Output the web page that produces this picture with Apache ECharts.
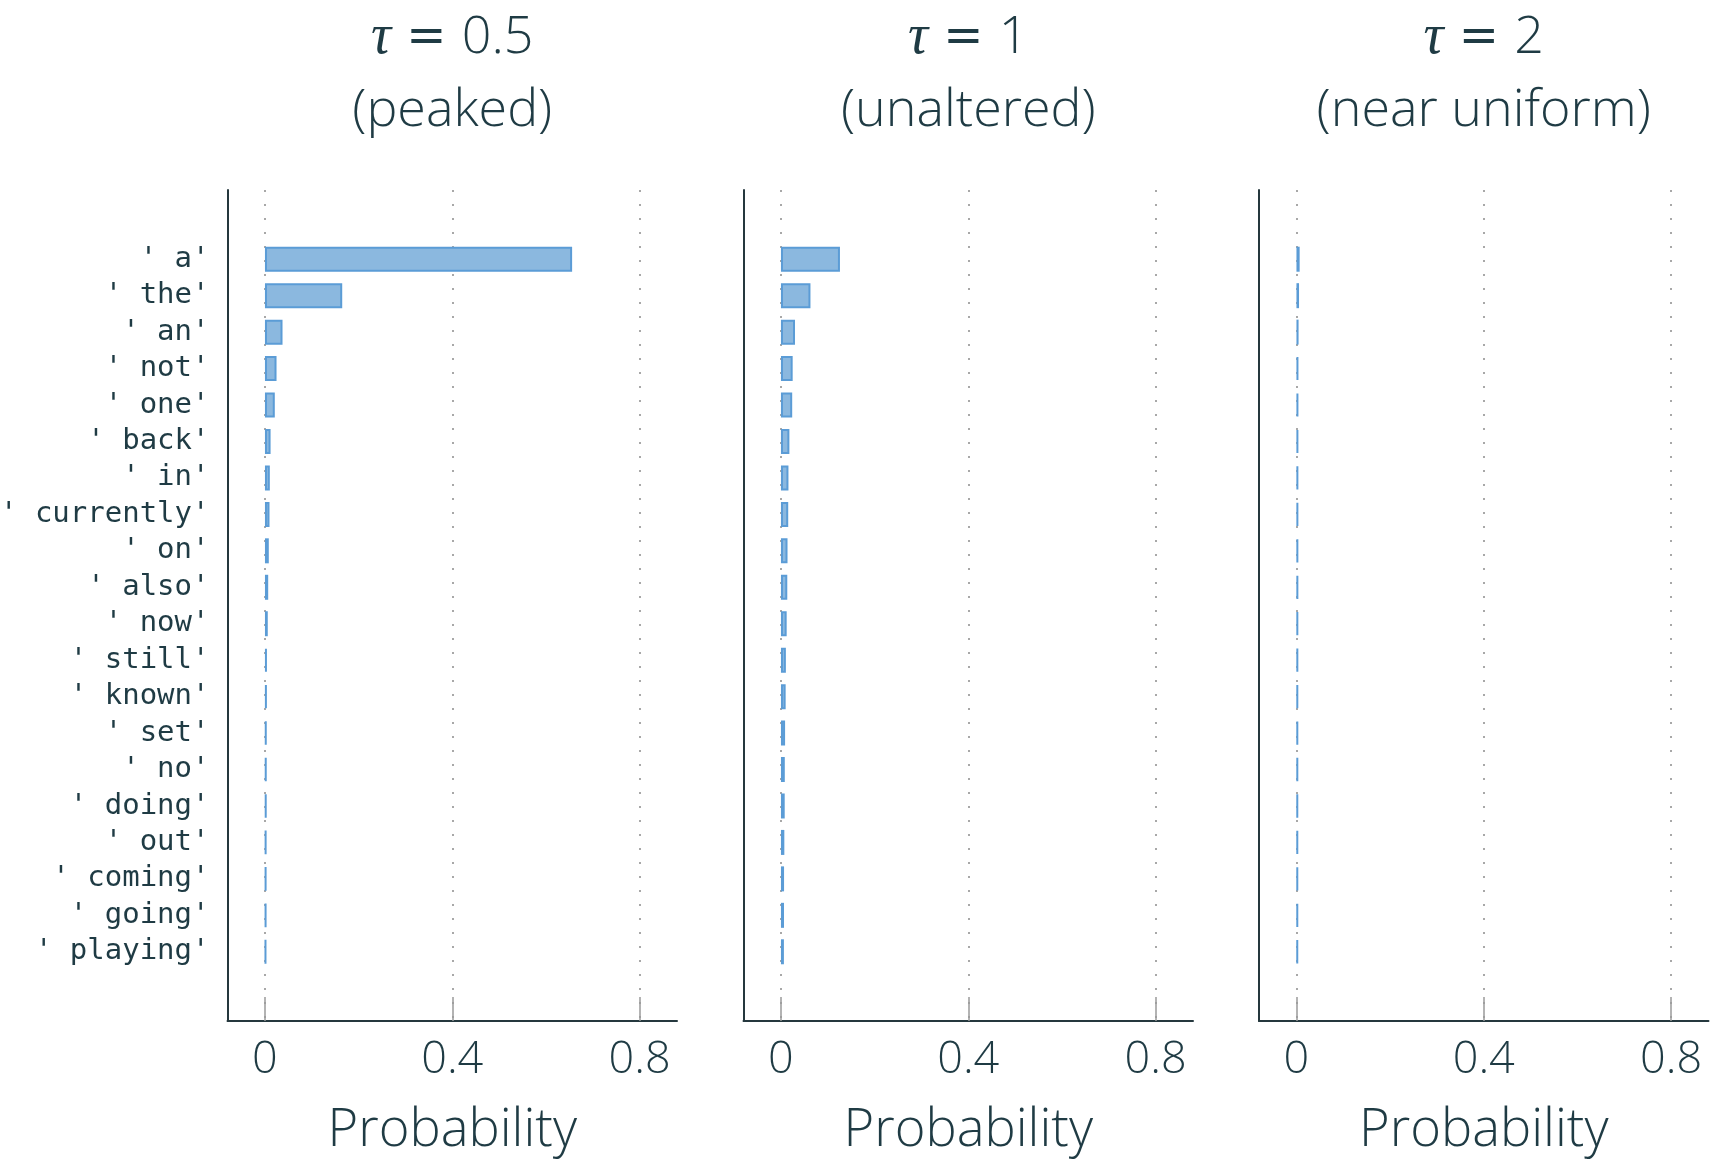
<!DOCTYPE html>
<html>
<head>
<meta charset="utf-8">
<script src="https://cdn.jsdelivr.net/npm/echarts@6/dist/echarts.min.js"></script>
<style>
html,body{margin:0;padding:0;background:#fff;}
#chart{width:1726px;height:1168px;}
</style>
</head>
<body>
<div id="chart"></div>
<script>
const categories = ["' a'", "' the'", "' an'", "' not'", "' one'", "' back'", "' in'", "' currently'", "' on'", "' also'", "' now'", "' still'", "' known'", "' set'", "' no'", "' doing'", "' out'", "' coming'", "' going'", "' playing'"];
const probTau05 = [0.656, 0.165, 0.0375, 0.0247, 0.021, 0.012, 0.0104, 0.0097, 0.0082, 0.0069, 0.006, 0.0042, 0.004, 0.0034, 0.0033, 0.0032, 0.0028, 0.0027, 0.0026, 0.0022];
const probTau1 = [0.126, 0.063, 0.030, 0.025, 0.024, 0.018, 0.016, 0.0155, 0.014, 0.0135, 0.0122, 0.0105, 0.010, 0.0088, 0.0082, 0.008, 0.0072, 0.0066, 0.0065, 0.0063];
const probTau2 = [0.0068, 0.0055, 0.0045, 0.0042, 0.0041, 0.004, 0.0039, 0.0039, 0.0038, 0.0038, 0.0037, 0.0037, 0.0036, 0.0036, 0.0036, 0.0035, 0.0035, 0.0035, 0.0035, 0.0034];
const tauValues = ['0.5', '1', '2'];
const subtitles = ['(peaked)', '(unaltered)', '(near uniform)'];
const xTickValues = [0, 0.4, 0.8];
const axisName = 'Probability';

const series = [probTau05, probTau1, probTau2];
const panelLeft = [227.5, 743.5, 1259];
const panelWidth = 449.5;
const W = 1726, H = 1168;
const xMin = -0.08, xMax = 0.88;
const textColor = '#1f3b44';
const axisColor = '#25383e';
const sans = "'Open Sans', 'Noto Sans', sans-serif";

const grids = [], xAxes = [], yAxes = [], seriesOpt = [], titles = [];
series.forEach((vals, i) => {
  const left = panelLeft[i];
  const right = W - left - panelWidth;
  grids.push({left: left, right: right, top: 190, bottom: H - 1021, containLabel: false, outerBoundsMode: 'none'});
  grids.push({left: left, right: right, top: 241, bottom: 198, containLabel: false, outerBoundsMode: 'none'});
  const fi = i * 2, bi = i * 2 + 1;
  xAxes.push({
    type: 'value', gridIndex: fi, min: xMin, max: xMax,
    axisLine: {show: true, onZero: false, lineStyle: {color: axisColor, width: 2}},
    axisTick: {show: true, inside: true, length: 24, customValues: xTickValues, lineStyle: {color: '#9a9a9a', width: 1.5}},
    axisLabel: {show: true, customValues: xTickValues, margin: 17, color: textColor, fontSize: 45, fontFamily: sans, fontWeight: 300,
      formatter: v => String(v)},
    splitLine: {show: true, lineStyle: {color: '#a8a8a8', width: 2, type: [2, 12]}},
    name: axisName, nameLocation: 'middle', nameGap: 84,
    nameTextStyle: {color: textColor, fontSize: 52.5, fontFamily: sans, fontWeight: 300}
  });
  yAxes.push({
    type: 'value', gridIndex: fi, min: 0, max: 1,
    axisLine: {show: true, onZero: false, lineStyle: {color: axisColor, width: 2}},
    axisTick: {show: false}, axisLabel: {show: false}, splitLine: {show: false}
  });
  xAxes.push({type: 'value', gridIndex: bi, min: xMin, max: xMax, show: false, splitLine: {show: false}});
  yAxes.push({
    type: 'category', gridIndex: bi, data: categories, inverse: true,
    axisLine: {show: false}, axisTick: {show: false}, splitLine: {show: false},
    axisLabel: {show: i === 0, interval: 0, hideOverlap: false, margin: 18, color: textColor, fontSize: 29,
      lineHeight: 30, padding: [11, 0, 0, 0],
      fontFamily: "'DejaVu Sans Mono', 'Liberation Mono', monospace"}
  });
  seriesOpt.push({
    type: 'bar', xAxisIndex: bi, yAxisIndex: bi, data: vals, barWidth: 25,
    itemStyle: {color: '#8bb8df', borderColor: '#5b9cd6', borderWidth: 2},
    emphasis: {disabled: true}, animation: false
  });
  titles.push({
    text: '{tau|τ}{op| = }{num|' + tauValues[i] + '}\n{sub|' + subtitles[i] + '}',
    left: left + panelWidth / 2, top: 2, textAlign: 'center', padding: 0,
    textStyle: {
      fontWeight: 'normal',
      rich: {
        tau: {fontFamily: "'Liberation Serif', serif", fontStyle: 'italic', fontWeight: 'normal', fontSize: 56, lineHeight: 73, color: textColor},
        op: {fontFamily: "'DejaVu Sans', sans-serif", fontWeight: 'normal', fontSize: 48, lineHeight: 73, color: textColor},
        num: {fontFamily: sans, fontWeight: 300, fontSize: 52, lineHeight: 73, color: textColor},
        sub: {fontFamily: sans, fontWeight: 300, fontSize: 52, lineHeight: 73, color: textColor}
      }
    }
  });
});

const chart = echarts.init(document.getElementById('chart'), null, {renderer: 'canvas'});
chart.setOption({
  backgroundColor: '#ffffff',
  animation: false,
  title: titles,
  grid: grids,
  xAxis: xAxes,
  yAxis: yAxes,
  series: seriesOpt
});
</script>
</body>
</html>
